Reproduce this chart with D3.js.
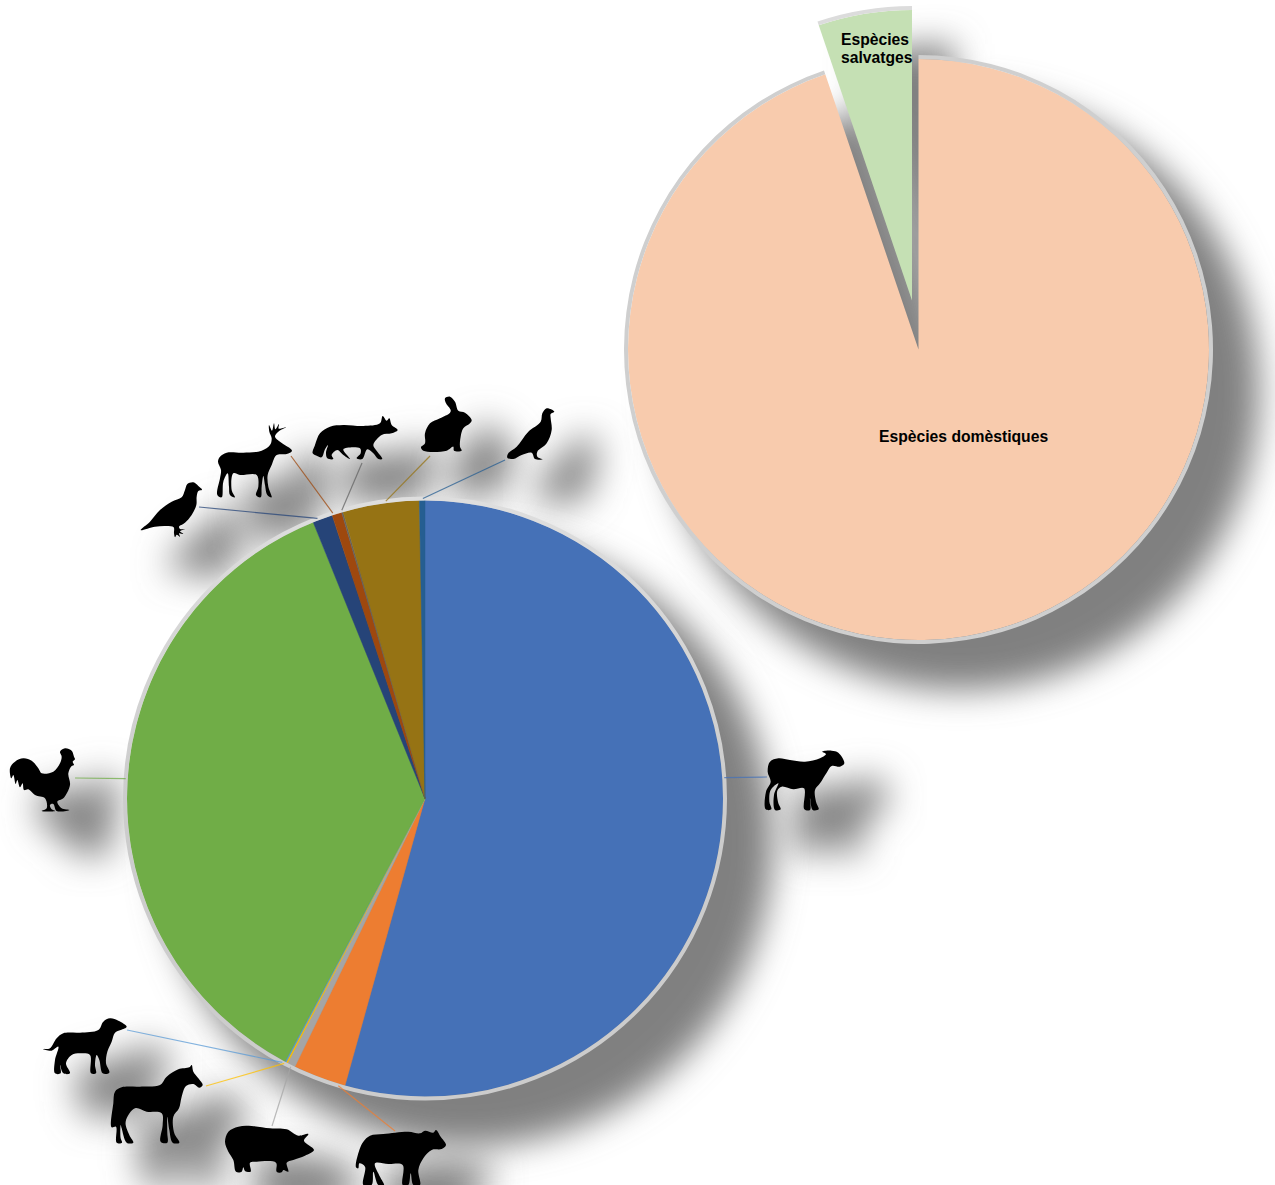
<!DOCTYPE html>
<html>
<head>
<meta charset="utf-8">
<style>
  html, body { margin: 0; padding: 0; background: #fff; }
  svg { display: block; }
  text { font-family: "Liberation Sans", Arial, sans-serif; font-weight: bold; fill: #000; }
</style>
<script src="https://cdn.jsdelivr.net/npm/d3@7"></script>
</head>
<body>
<svg id="chart" width="1275" height="1185"></svg>
<script>
// top pie: origin of the cases
var originNames = ['Espècies domèstiques', 'Espècies salvatges'];
var originShares = [94.8, 5.2];
var originColors = ['#f8cbad', '#c5e0b4'];

// bottom pie: species, clockwise from 12 o'clock
var speciesNames = ['Oví', 'Boví', 'Porcí', 'Equí', 'Gos', 'Gallina', 'Perdiu', 'Cérvol', 'Guineu', 'Conill', 'Perdiu blanca'];
var speciesShares = [54.33, 2.86, 0.44, 0.08, 0.07, 36.1, 1.08, 0.53, 0.08, 4.13, 0.3];
var speciesColors = ['#4571b7', '#ed7d31', '#a5a5a5', '#ffc000', '#5b9bd5', '#70ad47', '#264478', '#9e480e', '#636363', '#967314', '#255e91'];

// where each leader leaves the rim (degrees) and where it stops
var leaderAngles = [86, 196.8, 206.6, 208, 208.4, 273.8, 339, 342.1, 343.9, 352.5, 359.6];
var leaderEnds = [[767,777],[395,1131],[272,1126],[206,1086],[127,1030],[75,778],[199,507],[291,456],[362,463],[430,456],[505,460]];

// silhouettes, traced at 3x, same order as the species
var iconSheep = [[403,100],[390,110],[365,108],[350,128],[330,160],[315,180],[318,215],[326,238],[308,240],[300,205],[300,240],[283,238],[282,175],[250,178],[215,170],[202,182],[205,220],[212,238],[195,240],[192,195],[205,160],[182,180],[178,215],[184,238],[167,238],[168,185],[182,155],[173,125],[180,95],[205,85],[240,90],[285,95],[330,85],[348,72],[337,65],[365,62],[385,68]];
var iconCow = [[1248,405],[1235,417],[1205,420],[1180,445],[1165,480],[1170,525],[1150,525],[1142,490],[1135,525],[1118,525],[1118,465],[1075,462],[1035,460],[1050,500],[1062,525],[1045,525],[1030,485],[1025,525],[1000,525],[1005,470],[988,460],[985,475],[978,472],[988,420],[1000,395],[1020,377],[1060,372],[1135,365],[1170,370],[1185,362],[1210,368],[1218,360],[1232,380]];
var iconPig = [[852,420],[825,437],[790,450],[770,458],[775,485],[760,480],[755,487],[740,485],[738,458],[680,455],[660,458],[662,485],[645,483],[640,472],[635,485],[618,485],[610,450],[595,425],[585,395],[595,365],[625,350],[665,348],[720,355],[770,358],[805,377],[835,372],[822,392]];
var iconHorse = [[518,225],[508,233],[490,222],[468,228],[455,260],[447,295],[430,320],[433,370],[448,398],[428,398],[418,360],[412,320],[412,370],[412,398],[392,395],[398,345],[395,310],[350,305],[315,295],[287,335],[298,375],[310,398],[290,398],[275,355],[272,345],[272,385],[276,398],[260,398],[258,350],[245,352],[250,280],[255,245],[275,232],[330,230],[390,225],[410,200],[445,178],[478,172],[485,165],[490,185],[505,205]];
var iconDog = [[290,50],[272,60],[255,68],[245,95],[232,125],[228,160],[238,188],[218,190],[208,150],[200,135],[195,165],[198,190],[183,190],[180,135],[150,130],[125,135],[108,160],[120,190],[100,190],[90,165],[92,190],[75,190],[75,150],[85,110],[65,122],[40,118],[60,115],[80,85],[100,70],[150,68],[205,60],[220,35],[240,25],[265,32]];
var iconRooster = [[180,65],[195,55],[215,62],[222,80],[225,88],[218,95],[222,105],[215,108],[205,130],[210,165],[190,205],[172,215],[185,235],[208,240],[170,243],[160,222],[150,225],[155,238],[165,243],[125,243],[140,235],[135,205],[105,195],[85,178],[72,180],[68,160],[60,172],[52,150],[47,162],[40,135],[34,145],[30,115],[45,95],[70,85],[95,92],[115,115],[125,130],[160,125],[180,100],[185,80]];
var iconPartridge = [[216,299],[205,303],[200,320],[199,345],[185,375],[165,398],[147,410],[150,417],[165,418],[150,424],[160,432],[147,430],[150,440],[140,434],[135,442],[132,430],[131,412],[110,408],[75,410],[32,420],[60,395],[90,360],[125,335],[155,322],[165,300],[172,282],[190,277],[205,288]];
var iconDeer = [[486,182],[470,192],[440,195],[425,225],[413,255],[415,290],[425,322],[412,315],[405,285],[400,258],[395,290],[392,322],[378,315],[385,290],[380,255],[330,255],[310,250],[305,300],[315,322],[300,315],[297,290],[293,250],[280,275],[275,322],[262,315],[270,265],[273,240],[264,215],[270,200],[290,188],[340,188],[395,182],[420,165],[425,145],[418,125],[417,105],[426,122],[432,100],[436,118],[447,102],[446,116],[468,112],[445,125],[435,140],[450,155]];
var iconFox = [[803,120],[785,130],[755,135],[730,165],[738,180],[757,207],[745,207],[730,190],[712,178],[697,207],[680,205],[692,190],[690,175],[640,178],[660,207],[640,195],[622,180],[605,195],[610,207],[592,205],[588,188],[594,165],[585,178],[575,202],[560,197],[548,190],[555,165],[570,130],[600,110],[640,105],[700,108],[750,100],[758,78],[770,92],[778,85],[785,105]];
var iconRabbit = [[945,25],[960,20],[975,35],[985,62],[1005,68],[1025,90],[1020,100],[1000,115],[992,140],[990,170],[995,182],[972,182],[970,170],[950,182],[880,182],[873,172],[885,160],[885,130],[900,100],[930,85],[960,68],[962,60],[948,40]];
var iconGrouse = [[1273,65],[1262,72],[1262,85],[1265,120],[1250,160],[1222,185],[1222,200],[1238,208],[1215,207],[1205,188],[1175,195],[1150,207],[1132,203],[1135,190],[1160,170],[1195,125],[1232,95],[1237,70],[1250,55]];

var icons = [iconSheep, iconCow, iconPig, iconHorse, iconDog, iconRooster, iconPartridge, iconDeer, iconFox, iconRabbit, iconGrouse];
// top left corner of the crop each outline was traced from
var iconOrigins = [[710,730],[30,1010],[30,1010],[30,1010],[30,1010],[0,730],[130,390],[130,390],[130,390],[130,390],[130,390]];

var svg = d3.select('#chart');
var defs = svg.append('defs');
var shadowColor = '#808080';
var pieShift = 42, iconShift = 36;

defs.append('filter').attr('id', 'pieBlur')
    .attr('x', '-20%').attr('y', '-20%').attr('width', '140%').attr('height', '140%')
  .append('feGaussianBlur').attr('stdDeviation', 17);

// icon shadows are fatter and softer than the icons themselves
var iconBlur = defs.append('filter').attr('id', 'iconBlur')
    .attr('x', '-150%').attr('y', '-150%').attr('width', '400%').attr('height', '400%');
iconBlur.append('feMorphology').attr('operator', 'dilate').attr('radius', 20).attr('result', 'fat');
iconBlur.append('feGaussianBlur').attr('in', 'fat').attr('stdDeviation', 54);

var rimGradient = defs.append('linearGradient').attr('id', 'rim').attr('x1', 0).attr('y1', 0).attr('x2', 0).attr('y2', 1);
rimGradient.append('stop').attr('offset', 0).attr('stop-color', '#dedede');
rimGradient.append('stop').attr('offset', 0.5).attr('stop-color', '#cccccc');
rimGradient.append('stop').attr('offset', 1).attr('stop-color', '#cccccc');

var pie = d3.pie().sort(null).value(function(d) { return d; });
var outline = d3.line().curve(d3.curveCatmullRomClosed.alpha(0.5));

// ---- top pie ----
var topCx = 918.5, topCy = 349.5, topR = 290.5, rimWidth = 4;
var wedgeShift = [-6.5, -49]; // the exploded slice
var originArcs = pie(originShares);
var originArc = d3.arc().innerRadius(0).outerRadius(topR);
var originRim = d3.arc().innerRadius(topR).outerRadius(topR + rimWidth);

function topSlicePos(i) {
    return i == 1 ? [topCx + wedgeShift[0], topCy + wedgeShift[1]] : [topCx, topCy];
}

var topShadow = svg.append('g').attr('filter', 'url(#pieBlur)');
var topPie = svg.append('g');

originArcs.forEach(function(a, i) {
    var p = topSlicePos(i);
    var both = d3.arc().innerRadius(0).outerRadius(topR + rimWidth + 4)(a);
    topShadow.append('path')
        .attr('transform', 'translate(' + (p[0] + pieShift) + ',' + (p[1] + pieShift) + ')')
        .attr('d', both)
        .attr('fill', shadowColor);
    topPie.append('path')
        .attr('transform', 'translate(' + p + ')')
        .attr('d', originArc(a))
        .attr('fill', originColors[i]);
    topPie.append('path')
        .attr('transform', 'translate(' + p + ')')
        .attr('d', originRim(a))
        .attr('fill', i == 1 ? '#dcdcdc' : '#cfcfcf');
});

// ---- bottom pie ----
var cx = 425, cy = 798.5, r = 298;
var speciesArcs = pie(speciesShares);
var speciesArc = d3.arc().innerRadius(0).outerRadius(r);

// shadows first, so the pie sits on top of them and the icons stay black
var iconShadows = svg.append('g');
icons.forEach(function(pts, i) {
    iconShadows.append('path')
        .attr('transform', 'translate(' + (iconOrigins[i][0] + iconShift) + ',' + (iconOrigins[i][1] + iconShift) + ') scale(' + (1/3) + ')')
        .attr('d', outline(pts))
        .attr('fill', '#808080')
        .attr('filter', 'url(#iconBlur)');
});

svg.append('circle')
    .attr('cx', cx + pieShift).attr('cy', cy + pieShift).attr('r', r + rimWidth + 4)
    .attr('fill', shadowColor)
    .attr('filter', 'url(#pieBlur)');

var bottomPie = svg.append('g').attr('transform', 'translate(' + cx + ',' + cy + ')');
bottomPie.selectAll('path.slice')
    .data(speciesArcs)
    .enter()
    .append('path')
    .attr('class', 'slice')
    .attr('d', speciesArc)
    .attr('fill', function(d, i) { return speciesColors[i]; })
    .attr('stroke', function(d, i) { return speciesColors[i]; })
    .attr('stroke-width', 0.5);

bottomPie.append('circle')
    .attr('r', r + rimWidth / 2)
    .attr('fill', 'none')
    .attr('stroke', 'url(#rim)')
    .attr('stroke-width', rimWidth);

// leaders
svg.append('g').selectAll('line')
    .data(leaderAngles)
    .enter()
    .append('line')
    .attr('x1', function(d) { return cx + (r + 2) * Math.sin(d * Math.PI / 180); })
    .attr('y1', function(d) { return cy - (r + 2) * Math.cos(d * Math.PI / 180); })
    .attr('x2', function(d, i) { return leaderEnds[i][0]; })
    .attr('y2', function(d, i) { return leaderEnds[i][1]; })
    .attr('stroke', function(d, i) { return speciesColors[i]; })
    .attr('stroke-opacity', 0.75)
    .attr('stroke-width', 1.2);

// silhouettes
svg.append('g').selectAll('path')
    .data(icons)
    .enter()
    .append('path')
    .attr('transform', function(d, i) { return 'translate(' + iconOrigins[i] + ') scale(' + (1/3) + ')'; })
    .attr('d', function(d) { return outline(d); })
    .attr('fill', '#000');

// ---- labels ----
svg.append('text')
    .attr('x', 879).attr('y', 442)
    .attr('font-size', 15.7)
    .text(originNames[0]);

var wild = svg.append('text').attr('font-size', 15.7);
originNames[1].split(' ').forEach(function(word, i) {
    wild.append('tspan').attr('x', 841).attr('y', 44.5 + i * 18.5).text(word);
});
</script>
</body>
</html>
